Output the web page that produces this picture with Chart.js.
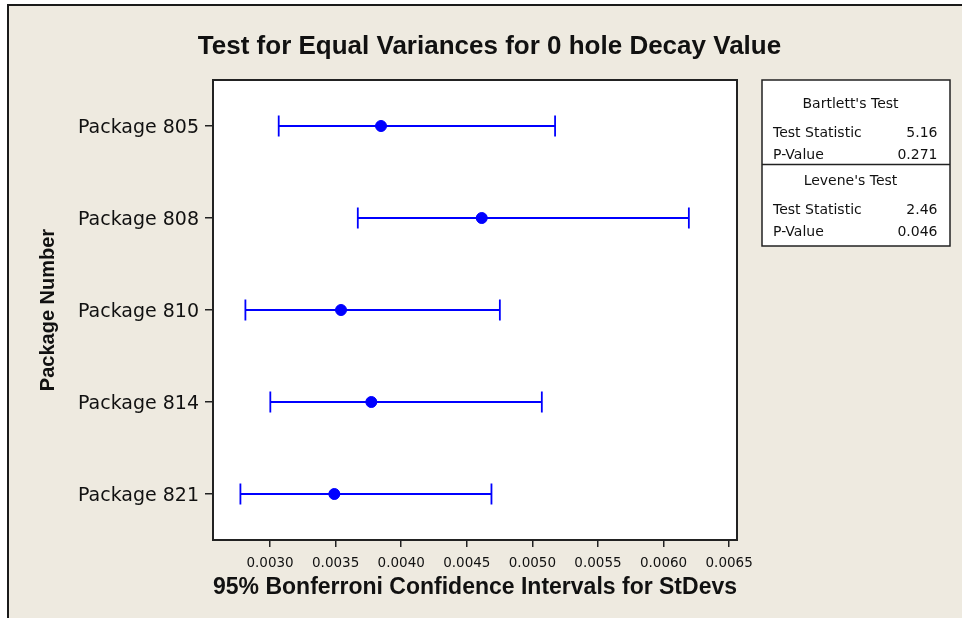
<!DOCTYPE html>
<html>
<head>
<meta charset="utf-8">
<script src="https://cdn.jsdelivr.net/npm/chart.js@4.4.0/dist/chart.umd.min.js"></script>
<style>
  html, body { margin: 0; padding: 0; background: #fff; }
  #wrap { position: relative; width: 962px; height: 618px; overflow: hidden; }
  #frame { position: absolute; left: 7px; top: 4px; width: 990px; height: 650px; background: #eeeae0;
           border-left: 2px solid #1a1a1a; border-top: 2px solid #1a1a1a; }
  canvas { position: absolute; left: 0; top: 0; }
</style>
</head>
<body>
<div id="wrap">
  <div id="frame"></div>
  <canvas id="chart" width="962" height="618"></canvas>
</div>
<script>
const packages = ['Package 805', 'Package 808', 'Package 810', 'Package 814', 'Package 821'];
const sigmaLower = [0.003066, 0.003669, 0.002812, 0.003002, 0.002774];
const sigmaEstimate = [0.003846, 0.004614, 0.003541, 0.003772, 0.003490];
const sigmaUpper = [0.005173, 0.006193, 0.004752, 0.005072, 0.004688];
const xTicks = [0.0030, 0.0035, 0.0040, 0.0045, 0.0050, 0.0055, 0.0060, 0.0065];

const testNames = ["Bartlett's Test", "Levene's Test"];
const testStatistics = ['5.16', '2.46'];
const pValues = ['0.271', '0.046'];

const blue = '#0000ff';
const ink = '#111111';
const plainFont = '"DejaVu Sans", sans-serif';
const boldFont = '"Liberation Sans", Arial, sans-serif';

// white plot box, its border, the main title and the test results box
const decorations = {
  id: 'decorations',
  beforeDraw(chart) {
    const { ctx, chartArea: a } = chart;
    ctx.save();
    ctx.fillStyle = '#ffffff';
    ctx.fillRect(a.left, a.top, a.right - a.left, a.bottom - a.top);
    ctx.restore();
  },
  afterDraw(chart) {
    const { ctx, chartArea: a } = chart;
    ctx.save();
    ctx.strokeStyle = '#222222';
    ctx.lineWidth = 2;
    ctx.strokeRect(a.left, a.top, a.right - a.left, a.bottom - a.top);

    ctx.fillStyle = ink;
    ctx.font = 'bold 26px ' + boldFont;
    ctx.textAlign = 'center';
    ctx.textBaseline = 'middle';
    ctx.fillText('Test for Equal Variances for 0 hole Decay Value', 489.5, 47);

    // test results box
    const bx = 762, by = 80, bw = 188, bh = 166;
    ctx.fillStyle = '#ffffff';
    ctx.fillRect(bx, by, bw, bh);
    ctx.lineWidth = 1.5;
    ctx.strokeRect(bx, by, bw, bh);
    ctx.beginPath();
    ctx.moveTo(bx, 164.5);
    ctx.lineTo(bx + bw, 164.5);
    ctx.stroke();

    ctx.fillStyle = ink;
    ctx.font = '14px ' + plainFont;
    const rows = [104, 181];
    testNames.forEach((name, i) => {
      const y = rows[i];
      ctx.textAlign = 'center';
      ctx.fillText(name, 850.5, y);
      ctx.textAlign = 'left';
      ctx.fillText('Test Statistic', 773, y + 29);
      ctx.fillText('P-Value', 773, y + 51.5);
      ctx.textAlign = 'right';
      ctx.fillText(testStatistics[i], 937.5, y + 29);
      ctx.fillText(pValues[i], 937.5, y + 51.5);
    });
    ctx.restore();
  }
};

const intervalSets = packages.map((p, i) => ({
  data: [{ x: sigmaLower[i], y: p }, { x: sigmaUpper[i], y: p }],
  showLine: true,
  borderColor: blue,
  borderWidth: 1.8,
  pointStyle: 'line',
  pointRotation: 90,
  pointRadius: 10.5,
  pointHoverRadius: 10.5,
  pointBorderWidth: 1.8,
  pointBorderColor: blue,
  pointBackgroundColor: blue
}));

const estimateSet = {
  data: packages.map((p, i) => ({ x: sigmaEstimate[i], y: p })),
  showLine: false,
  pointStyle: 'circle',
  pointRadius: 5.5,
  pointHoverRadius: 5.5,
  pointBorderWidth: 1,
  pointBorderColor: blue,
  pointBackgroundColor: blue
};

new Chart(document.getElementById('chart'), {
  type: 'scatter',
  data: { datasets: [estimateSet, ...intervalSets] },
  options: {
    responsive: false,
    animation: false,
    events: [],
    layout: { padding: { left: 36, right: 225, top: 80, bottom: 17 } },
    plugins: {
      legend: { display: false },
      tooltip: { enabled: false },
      title: { display: false }
    },
    scales: {
      x: {
        type: 'linear',
        min: 0.002565,
        max: 0.00656,
        afterBuildTicks: (scale) => { scale.ticks = xTicks.map((v) => ({ value: v })); },
        afterFit: (scale) => { scale.height = 61; },
        ticks: {
          callback: (v) => Number(v).toFixed(4),
          font: { family: plainFont, size: 13.5 },
          color: ink,
          padding: 8,
          maxRotation: 0,
          autoSkip: false
        },
        grid: { drawOnChartArea: false, drawTicks: true, tickLength: 7, color: '#222222', lineWidth: 1.5 },
        border: { display: false },
        title: {
          display: true,
          text: '95% Bonferroni Confidence Intervals for StDevs',
          font: { family: boldFont, weight: 'bold', size: 23 },
          color: ink,
          padding: 0
        }
      },
      y: {
        type: 'category',
        labels: packages,
        offset: true,
        afterFit: (scale) => { scale.width = 177; },
        ticks: { font: { family: plainFont, size: 19 }, color: ink, padding: 6, labelOffset: 2 },
        grid: { drawOnChartArea: false, drawTicks: true, tickLength: 8, color: '#222222', lineWidth: 1.5, offset: false },
        border: { display: false },
        title: {
          display: true,
          text: 'Package Number',
          font: { family: boldFont, weight: 'bold', size: 20 },
          color: ink,
          padding: 0
        }
      }
    }
  },
  plugins: [decorations]
});
</script>
</body>
</html>
